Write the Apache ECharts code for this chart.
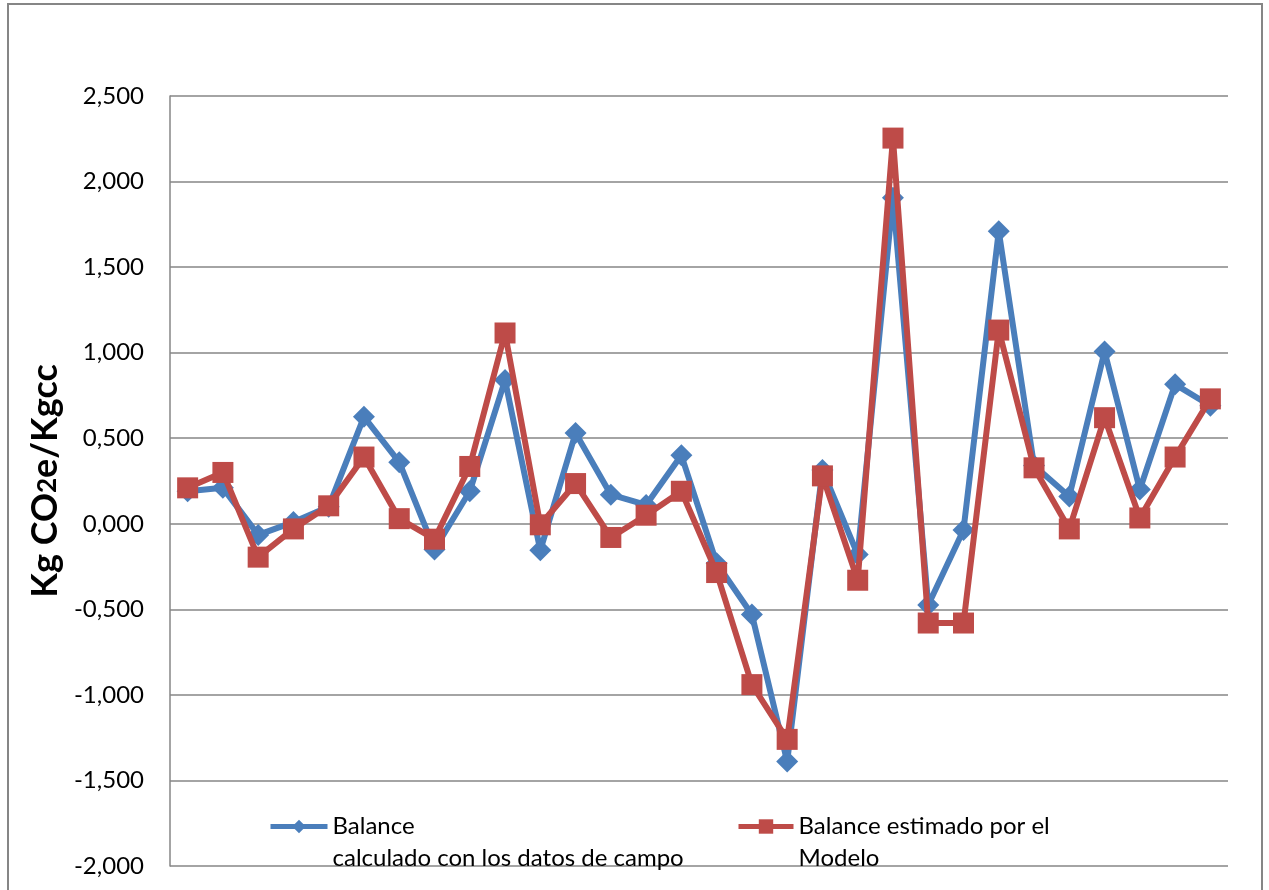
<!DOCTYPE html>
<html>
<head>
<meta charset="utf-8">
<script src="https://cdn.jsdelivr.net/npm/echarts@6/dist/echarts.min.js"></script>
<style>
html,body{margin:0;padding:0;background:#fff;}
#chart{width:1269px;height:890px;}
</style>
</head>
<body>
<div id="chart"></div>
<script>
const categories = ['1','2','3','4','5','6','7','8','9','10','11','12','13','14','15','16','17','18','19','20','21','22','23','24','25','26','27','28','29','30'];
const seriesNames = ['Balance\ncalculado con los datos de campo', 'Balance estimado por el\nModelo'];
const balanceCampo = [0.19, 0.21, -0.065, 0.01, 0.10, 0.625, 0.36, -0.15, 0.19, 0.84, -0.155, 0.53, 0.17, 0.11, 0.40, -0.23, -0.53, -1.39, 0.315, -0.18, 1.905, -0.475, -0.036, 1.71, 0.34, 0.16, 1.007, 0.20, 0.815, 0.69];
const balanceModelo = [0.21, 0.30, -0.195, -0.03, 0.105, 0.39, 0.03, -0.09, 0.335, 1.115, -0.006, 0.235, -0.08, 0.05, 0.19, -0.285, -0.94, -1.26, 0.28, -0.33, 2.254, -0.58, -0.58, 1.132, 0.327, -0.03, 0.62, 0.034, 0.39, 0.73];
const yMin = -2.0, yMax = 2.5, yStep = 0.5;

const FONT = 'Lato, "Open Sans", sans-serif';
const chart = echarts.init(document.getElementById('chart'));
const legendText = {
  fontFamily: FONT, fontSize: 24, color: '#000',
  rich: {
    a: {fontFamily: FONT, fontSize: 24, color: '#000', lineHeight: 64},
    b: {fontFamily: FONT, fontSize: 24, color: '#000', lineHeight: 1}
  }
};
const legendFormatter = name => {
  const parts = name.split('\n');
  return '{a|' + parts[0] + '}\n{b|' + parts[1] + '}';
};
chart.setOption({
  animation: false,
  backgroundColor: '#fff',
  graphic: [{
    type: 'rect', shape: {x: 8, y: 4, width: 1254, height: 900},
    style: {fill: 'none', stroke: '#868686', lineWidth: 2}, silent: true
  }],
  grid: {left: 170, right: 41, top: 96, bottom: 24},
  legend: [
    {data: [seriesNames[0]], left: 268, top: 814, padding: 0, itemWidth: 57, itemHeight: 17, itemGap: 5,
      lineStyle: {width: 5}, formatter: legendFormatter, textStyle: legendText},
    {data: [seriesNames[1]], left: 736, top: 814, padding: 0, itemWidth: 55, itemHeight: 18, itemGap: 5,
      lineStyle: {width: 5}, formatter: legendFormatter, textStyle: legendText}
  ],
  xAxis: {
    type: 'category', data: categories, boundaryGap: true,
    axisLine: {show: false}, axisTick: {show: false}, axisLabel: {show: false},
    splitLine: {show: false}
  },
  yAxis: {
    type: 'value', min: yMin, max: yMax, interval: yStep,
    name: '{a|Kg CO}{b|2}{a|e/Kgcc}', nameLocation: 'middle', nameGap: 104,
    nameTextStyle: {
      rich: {
        a: {fontFamily: FONT, fontSize: 36, fontWeight: 'bold', color: '#000'},
        b: {fontFamily: FONT, fontSize: 26, fontWeight: 'bold', color: '#000', padding: [6, 0, 0, 0]}
      }
    },
    axisLine: {show: true, lineStyle: {color: '#868686', width: 1.5}},
    axisTick: {show: false},
    axisLabel: {
      fontFamily: FONT, fontSize: 24, color: '#000', margin: 26,
      formatter: v => v.toFixed(3).replace('.', ',')
    },
    splitLine: {show: true, lineStyle: {color: '#868686', width: 1.5}}
  },
  series: [
    {
      name: seriesNames[0], type: 'line', data: balanceCampo,
      symbol: 'diamond', symbolSize: 22,
      lineStyle: {color: '#4A7EBB', width: 6},
      itemStyle: {color: '#4A7EBB'}, z: 2
    },
    {
      name: seriesNames[1], type: 'line', data: balanceModelo,
      symbol: 'rect', symbolSize: 21,
      lineStyle: {color: '#BE4B48', width: 6},
      itemStyle: {color: '#BE4B48'}, z: 3
    }
  ]
});
</script>
</body>
</html>
